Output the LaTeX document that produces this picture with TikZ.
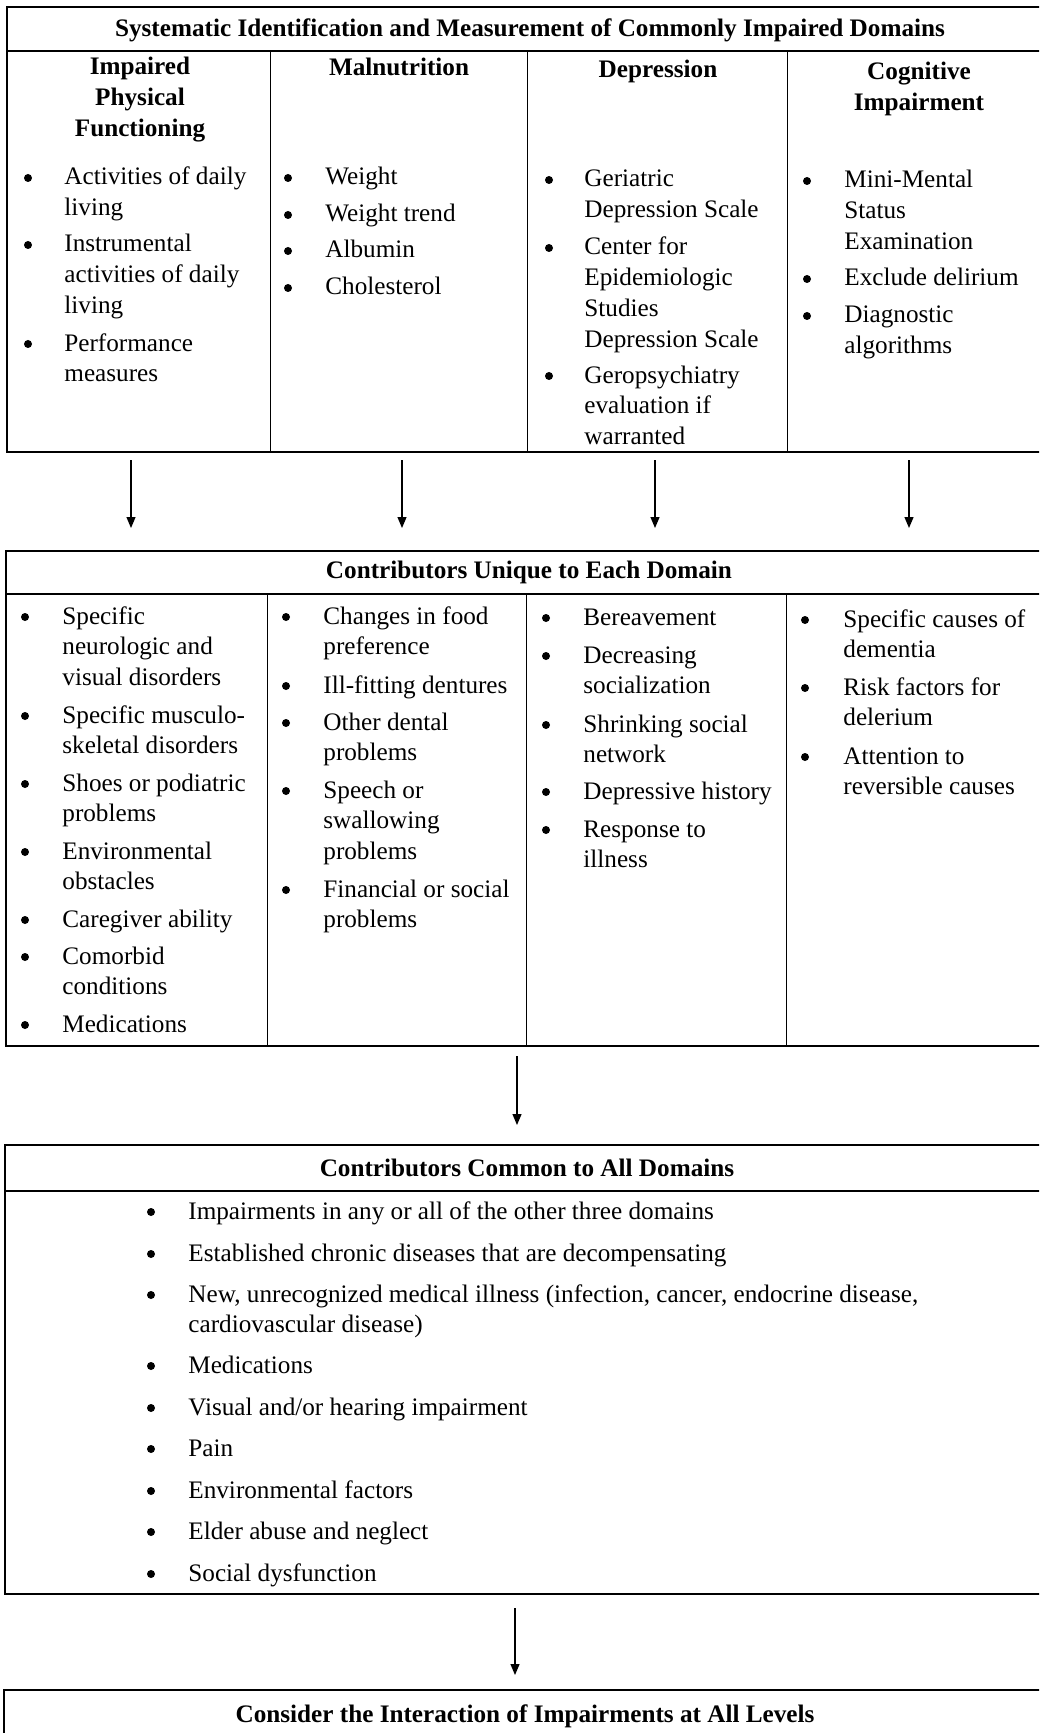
\documentclass[tikz,border=0pt]{standalone}
\usepackage{fontspec}
\setmainfont{Liberation Serif}
\usetikzlibrary{fit,arrows.meta}
\tikzset{
  txt/.style={font=\fontsize{12.6pt}{15.4pt}\selectfont, inner sep=0pt, anchor=base west},
  hdr/.style={font=\fontsize{12.6pt}{15.5pt}\selectfont\bfseries, inner sep=0pt, anchor=base},
  bul/.style={circle, fill=black, inner sep=0pt, minimum size=4pt},
  frame/.style={draw, line width=0.9pt, inner sep=0pt},
  rule/.style={line width=0.9pt},
  arr/.style={-{Triangle[width=4.5pt,length=5.5pt]}, line width=0.6pt},
}
\newcommand\Lines[1]{\begin{tabular}[t]{@{}l@{}}#1\end{tabular}}
\newcommand\CLines[1]{\begin{tabular}[t]{@{}c@{}}#1\end{tabular}}
\newcommand\Itm[5]{%
  \node[bul] (#1b) at (#2,#4-7) {};
  \node[txt] (#1) at (#3,#4) {\Lines{#5}};}
\begin{document}
\begin{tikzpicture}[x=0.5pt,y=-0.5pt]
\useasboundingbox (0,0) rectangle (1039,1733);
\begin{scope}
\clip (0,0) rectangle (1039,1733);
% ---------------- Box 1
\node[frame, fit={(7,7) (1050,452)}] (box1) {};
\draw[rule] (7,51) -- (1050,51);
\node[fit={(7,51) (270,452)}, inner sep=0pt] (c11) {};
\node[fit={(270,51) (527,452)}, inner sep=0pt] (c12) {};
\node[fit={(527,51) (787,452)}, inner sep=0pt] (c13) {};
\node[fit={(787,51) (1050,452)}, inner sep=0pt] (c14) {};
\draw[rule] (c11.north east) -- (c11.south east);
\draw[rule] (c12.north east) -- (c12.south east);
\draw[rule] (c13.north east) -- (c13.south east);
\node[hdr] (t1) at (530,37) {Systematic Identification and Measurement of Commonly Impaired Domains};
\node[hdr] (h11) at (140,75) {\CLines{Impaired\\Physical\\Functioning}};
\node[hdr] (h12) at (399,76) {Malnutrition};
\node[hdr] (h13) at (658,78) {Depression};
\node[hdr] (h14) at (919,80) {\CLines{Cognitive\\Impairment}};
\Itm{a1}{28}{64}{185}{Activities of daily\\living}
\Itm{a2}{28}{64}{252}{Instrumental\\activities of daily\\living}
\Itm{a3}{28}{64}{351}{Performance\\measures}
\Itm{b1}{288}{325}{185}{Weight}
\Itm{b2}{288}{325}{222}{Weight trend}
\Itm{b3}{288}{325}{258}{Albumin}
\Itm{b4}{288}{325}{295}{Cholesterol}
\Itm{d1}{549}{584}{187}{Geriatric\\Depression Scale}
\Itm{d2}{549}{584}{255}{Center for\\Epidemiologic\\Studies\\Depression Scale}
\Itm{d3}{549}{584}{383}{Geropsychiatry\\evaluation if\\warranted}
\Itm{e1}{807}{844}{188}{Mini-Mental\\Status\\Examination}
\Itm{e2}{807}{844}{286}{Exclude delirium}
\Itm{e3}{807}{844}{323}{Diagnostic\\algorithms}
% arrows 1
\coordinate (p1s) at (131,460); \coordinate (p1e) at (131,528);
\coordinate (p2s) at (402,460); \coordinate (p2e) at (402,528);
\coordinate (p3s) at (655,460); \coordinate (p3e) at (655,528);
\coordinate (p4s) at (909,460); \coordinate (p4e) at (909,528);
\draw[arr] (p1s) -- (p1e);
\draw[arr] (p2s) -- (p2e);
\draw[arr] (p3s) -- (p3e);
\draw[arr] (p4s) -- (p4e);
% ---------------- Box 2
\node[frame, fit={(6,551) (1050,1046)}] (box2) {};
\draw[rule] (6,594) -- (1050,594);
\node[fit={(6,594) (267,1046)}, inner sep=0pt] (c21) {};
\node[fit={(267,594) (526,1046)}, inner sep=0pt] (c22) {};
\node[fit={(526,594) (786,1046)}, inner sep=0pt] (c23) {};
\node[fit={(786,594) (1050,1046)}, inner sep=0pt] (c24) {};
\draw[rule] (c21.north east) -- (c21.south east);
\draw[rule] (c22.north east) -- (c22.south east);
\draw[rule] (c23.north east) -- (c23.south east);
\node[hdr] (t2) at (529,578) {Contributors Unique to Each Domain};
\Itm{f1}{25}{62}{624}{Specific\\neurologic and\\visual disorders}
\Itm{f2}{25}{62}{723}{Specific musculo-\\skeletal disorders}
\Itm{f3}{25}{62}{791}{Shoes or podiatric\\problems}
\Itm{f4}{25}{62}{859}{Environmental\\obstacles}
\Itm{f5}{25}{62}{927}{Caregiver ability}
\Itm{f6}{25}{62}{964}{Comorbid\\conditions}
\Itm{f7}{25}{62}{1032}{Medications}
\Itm{g1}{286}{323}{624}{Changes in food\\preference}
\Itm{g2}{286}{323}{693}{Ill-fitting dentures}
\Itm{g3}{286}{323}{730}{Other dental\\problems}
\Itm{g4}{286}{323}{798}{Speech or\\swallowing\\problems}
\Itm{g5}{286}{323}{897}{Financial or social\\problems}
\Itm{k1}{546}{583}{625}{Bereavement}
\Itm{k2}{546}{583}{663}{Decreasing\\socialization}
\Itm{k3}{546}{583}{732}{Shrinking social\\network}
\Itm{k4}{546}{583}{799}{Depressive history}
\Itm{k5}{546}{583}{837}{Response to\\illness}
\Itm{m1}{805}{843}{627}{Specific causes of\\dementia}
\Itm{m2}{805}{843}{695}{Risk factors for\\delerium}
\Itm{m3}{805}{843}{764}{Attention to\\reversible causes}
% arrow 5
\coordinate (p5s) at (517,1056); \coordinate (p5e) at (517,1125);
\draw[arr] (p5s) -- (p5e);
% ---------------- Box 3
\node[frame, fit={(5,1145) (1050,1594)}] (box3) {};
\draw[rule] (5,1191) -- (1050,1191);
\node[hdr] (t3) at (527,1176) {Contributors Common to All Domains};
\Itm{n1}{151}{188}{1219}{Impairments in any or all of the other three domains}
\Itm{n2}{151}{188}{1261}{Established chronic diseases that are decompensating}
\Itm{n3}{151}{188}{1302}{New, unrecognized medical illness (infection, cancer, endocrine disease,\\cardiovascular disease)}
\Itm{n4}{151}{188}{1373}{Medications}
\Itm{n5}{151}{188}{1415}{Visual and/or hearing impairment}
\Itm{n6}{151}{188}{1456}{Pain}
\Itm{n7}{151}{188}{1498}{Environmental factors}
\Itm{n8}{151}{188}{1539}{Elder abuse and neglect}
\Itm{n9}{151}{188}{1581}{Social dysfunction}
% arrow 6
\coordinate (p6s) at (515,1608); \coordinate (p6e) at (515,1675);
\draw[arr] (p6s) -- (p6e);
% ---------------- Box 4
\node[frame, fit={(4,1690) (1050,1790)}] (box4) {};
\node[hdr] (t4) at (525,1722) {Consider the Interaction of Impairments at All Levels};
\end{scope}
\end{tikzpicture}
\end{document}
